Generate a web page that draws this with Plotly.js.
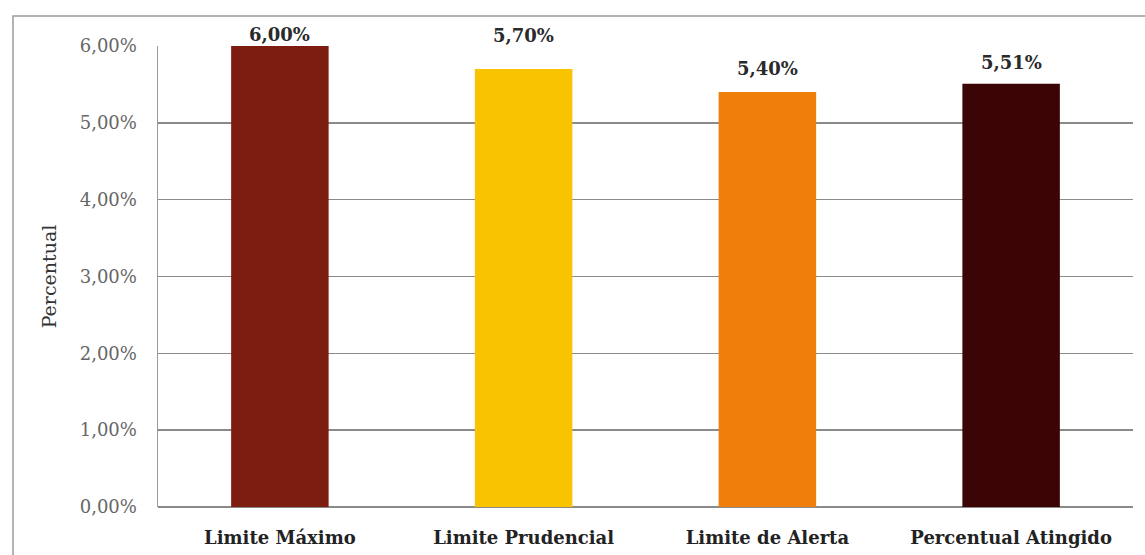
<!DOCTYPE html>
<html>
<head>
<meta charset="utf-8">
<script src="https://cdn.plot.ly/plotly-3.0.1.min.js"></script>
<style>html,body{margin:0;padding:0;background:#fff;}#chart{width:1145px;height:555px;}</style>
</head>
<body>
<div id="chart"></div>
<script>
const categories = ["Limite Máximo", "Limite Prudencial", "Limite de Alerta", "Percentual Atingido"];
const values = [6.00, 5.70, 5.40, 5.51];
const barColors = ["#7d1d10", "#f8c402", "#f07f0a", "#3a0504"];
const tickValues = [0, 1, 2, 3, 4, 5, 6];
const yTitle = "Percentual";

// label placement (pixels above bar top, as in the original, manually placed labels)
const labelShift = [12, 34, 24, 21];

const serif = "DejaVu Serif, Liberation Serif, serif";
const fmt = v => v.toFixed(2).replace(".", ",") + "%";

const trace = {
  type: "bar",
  x: categories,
  y: values,
  marker: {color: barColors, line: {width: 0}},
  width: 0.4,
  hoverinfo: "none"
};

const annotations = categories.map((c, i) => ({
  x: c, y: values[i], xref: "x", yref: "y",
  text: fmt(values[i]),
  showarrow: false,
  yanchor: "middle",
  yshift: labelShift[i],
  font: {family: serif, size: 18, color: "#2a2a2a", weight: "bold"}
}));

const layout = {
  width: 1145,
  height: 555,
  margin: {l: 158, r: 12, t: 46, b: 48},
  paper_bgcolor: "#ffffff",
  plot_bgcolor: "#ffffff",
  showlegend: false,
  bargap: 0.6,
  xaxis: {
    type: "category",
    showgrid: false,
    zeroline: false,
    showline: false,
    ticks: "",
    ticklabelstandoff: 18,
    tickfont: {family: serif, size: 18, color: "#222", weight: "bold"}
  },
  yaxis: {
    range: [0, 6],
    tickmode: "array",
    tickvals: tickValues,
    ticktext: tickValues.map(fmt),
    showgrid: true,
    gridcolor: "#8a8a8a",
    gridwidth: 1.5,
    zeroline: true,
    zerolinecolor: "#8a8a8a",
    zerolinewidth: 1.5,
    showline: true,
    linecolor: "#9a9a9a",
    linewidth: 1.5,
    ticks: "",
    ticklabelstandoff: 16,
    tickfont: {family: serif, size: 18, color: "#666"},
    title: {text: yTitle, standoff: 18, font: {family: serif, size: 19, color: "#333"}}
  },
  annotations: annotations,
  shapes: [{
    type: "rect", xref: "paper", yref: "paper",
    x0: (13 - 158) / 975, x1: 1.02, y0: -0.12, y1: (507 - 16) / 461,
    line: {color: "#9a9a9a", width: 1.5}, fillcolor: "rgba(0,0,0,0)", layer: "below"
  }]
};

Plotly.newPlot("chart", [trace], layout, {staticPlot: true});
</script>
</body>
</html>
